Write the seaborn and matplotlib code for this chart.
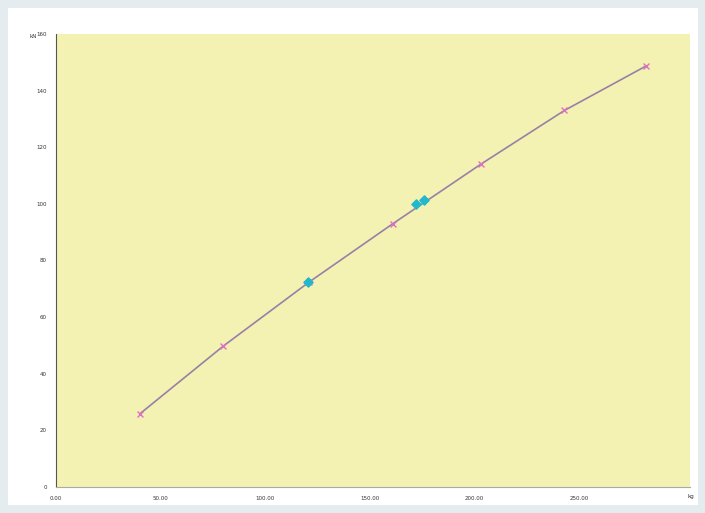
import numpy as np
import pandas as pd
import matplotlib
matplotlib.use("Agg")
import matplotlib.pyplot as plt
import seaborn as sns
from matplotlib.patches import Rectangle

# calibration points (pink crosses)
x_vals = [40, 80, 121, 161, 203, 243, 282]
y_vals = [25.8, 49.8, 72.4, 93.0, 114.0, 133.0, 148.7]
# measured points (cyan)
cx_vals = [120.6, 172, 176]
cy_vals = [72.4, 100.0, 101.5]

x_ticks = [0, 50, 100, 150, 200, 250]
y_ticks = [0, 20, 40, 60, 80, 100, 120, 140, 160]

sns.set_style("white")
fig = plt.figure(figsize=(7.05, 5.13), dpi=100)
fig.patch.set_facecolor("#e4ecf0")
fig.patches.append(Rectangle((8/705, 8/513), 690/705, 497/513, transform=fig.transFigure,
                             facecolor="white", edgecolor="none", zorder=-5))
ax = fig.add_axes([56/705, 26/513, 634/705, 453/513])
ax.set_facecolor("#f4f2b2")

df = pd.DataFrame({"x": x_vals, "y": y_vals})
sns.lineplot(data=df, x="x", y="y", ax=ax, color="#9a7fa6", linewidth=1.2)
ax.scatter(x_vals, y_vals, marker="x", color="#e070c0", s=18, linewidths=1, zorder=3)
ax.scatter(cx_vals, cy_vals, marker="D", color="#22b8cc", s=22, zorder=4)

ax.set_xlim(0, 303)
ax.set_ylim(0, 160)
ax.set_xticks(x_ticks)
ax.set_xticklabels([f"{v:.2f}" for v in x_ticks])
ax.set_yticks(y_ticks)
ax.tick_params(labelsize=4, length=3, direction="out", color="#444", labelcolor="#333")
for s in ["top", "right"]:
    ax.spines[s].set_visible(False)
ax.spines["left"].set_color("#555")
ax.spines["bottom"].set_color("#aaa")
ax.set_xlabel("")
ax.set_ylabel("")
fig.text(30/705, 1 - 38/513, "kN", fontsize=4, color="#333")
fig.text(688/705, 1 - 498/513, "kg", fontsize=4, color="#333")

fig.savefig("out.png", dpi=100, facecolor=fig.get_facecolor())
